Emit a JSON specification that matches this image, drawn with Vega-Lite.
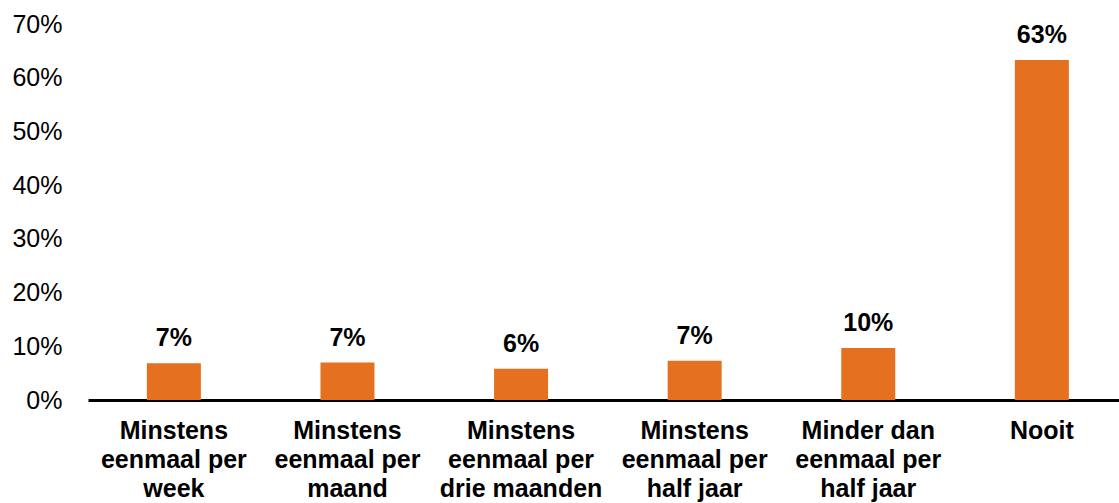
{
  "$schema": "https://vega.github.io/schema/vega-lite/v6.json",
  "autosize": "none",
  "width": 1031,
  "height": 376,
  "padding": {"left": 88, "top": 24, "right": 0, "bottom": 103},
  "background": "white",
  "config": {"view": {"stroke": null}, "font": "Liberation Sans"},
  "data": {"values": [
    {"categorie": "Minstens eenmaal per week", "aandeel": 0.0685},
    {"categorie": "Minstens eenmaal per maand", "aandeel": 0.0696},
    {"categorie": "Minstens eenmaal per drie maanden", "aandeel": 0.058},
    {"categorie": "Minstens eenmaal per half jaar", "aandeel": 0.073},
    {"categorie": "Minder dan eenmaal per half jaar", "aandeel": 0.097},
    {"categorie": "Nooit", "aandeel": 0.633}
  ]},
  "encoding": {
    "x": {
      "field": "categorie", "type": "nominal", "sort": null,
      "scale": {"paddingInner": 0.689, "paddingOuter": 0.314, "align": 0.54},
      "axis": {
        "title": null, "labelAngle": 0, "ticks": false,
        "domainColor": "black", "domainWidth": 3,
        "labelFont": "Liberation Sans", "labelFontSize": 25, "labelFontWeight": "bold",
        "labelColor": "black", "labelPadding": 18, "labelLineHeight": 29, "labelLimit": 300,
        "labelExpr": "datum.value == 'Minstens eenmaal per week' ? ['Minstens','eenmaal per','week'] : datum.value == 'Minstens eenmaal per maand' ? ['Minstens','eenmaal per','maand'] : datum.value == 'Minstens eenmaal per drie maanden' ? ['Minstens','eenmaal per','drie maanden'] : datum.value == 'Minstens eenmaal per half jaar' ? ['Minstens','eenmaal per','half jaar'] : datum.value == 'Minder dan eenmaal per half jaar' ? ['Minder dan','eenmaal per','half jaar'] : datum.value"
      }
    },
    "y": {
      "field": "aandeel", "type": "quantitative",
      "scale": {"domain": [0, 0.7], "nice": false},
      "axis": {
        "title": null, "format": ".0%", "values": [0, 0.1, 0.2, 0.3, 0.4, 0.5, 0.6, 0.7],
        "domain": false, "ticks": false, "grid": false,
        "labelFont": "Liberation Sans", "labelFontSize": 25, "labelColor": "black",
        "labelPadding": 26
      }
    }
  },
  "layer": [
    {"mark": {"type": "bar", "color": "#E57020"}},
    {
      "mark": {"type": "text", "baseline": "alphabetic", "dy": -17, "fontSize": 25, "fontWeight": "bold", "font": "Liberation Sans", "color": "black"},
      "encoding": {"text": {"field": "aandeel", "type": "quantitative", "format": ".0%"}}
    }
  ]
}
